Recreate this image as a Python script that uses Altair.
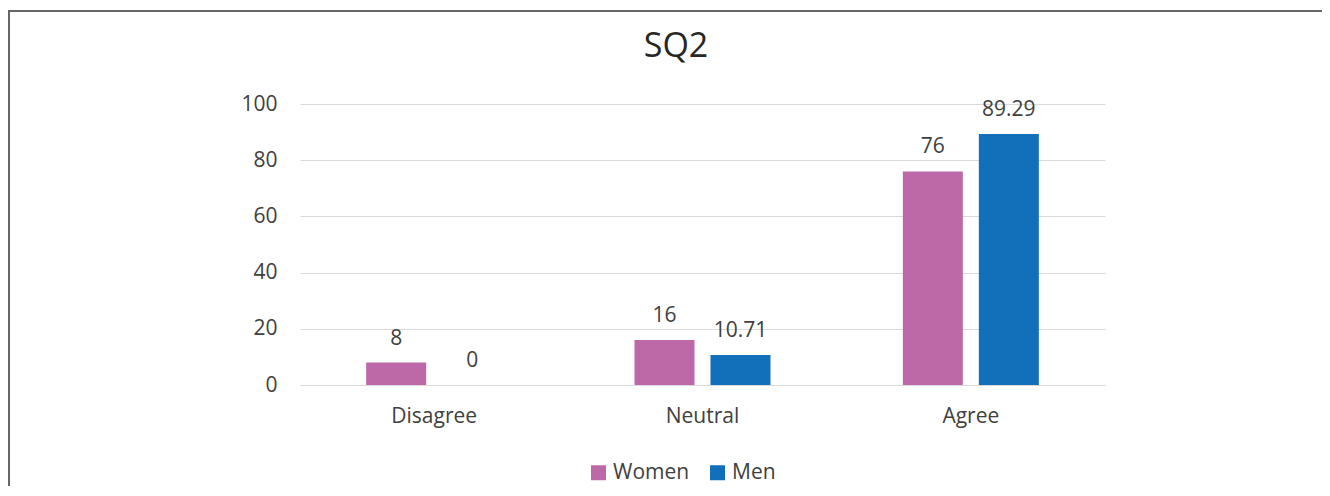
import altair as alt
import pandas as pd

categories = ["Disagree", "Neutral", "Agree"]
groups = ["Women", "Men"]
women = [8, 16, 76]
men = [0, 10.71, 89.29]
colors = ["#BD69A8", "#1170B9"]
y_ticks = [0, 20, 40, 60, 80, 100]
title_text = "SQ2"

rows = []
for c, w, m in zip(categories, women, men):
    rows.append({"category": c, "group": "Women", "value": w})
    rows.append({"category": c, "group": "Men", "value": m})
df = pd.DataFrame(rows)
df["label"] = df["value"].map(lambda v: f"{v:g}")

FONT = "Open Sans"
TXT = "#404040"
FS = 21

x = alt.X("category:N", sort=categories, title=None,
          scale=alt.Scale(paddingInner=0.4932, paddingOuter=0.2466),
          axis=alt.Axis(labelAngle=0, labelFontSize=FS, labelColor=TXT, labelFont=FONT,
                        ticks=False, domainColor="#d9d9d9", domainWidth=1, labelPadding=20))
xo = alt.XOffset("group:N", sort=groups, scale=alt.Scale(paddingInner=0.2105, paddingOuter=0))
y = alt.Y("value:Q", title=None, scale=alt.Scale(domain=[0, 100]),
          axis=alt.Axis(values=y_ticks, grid=True, gridColor="#d9d9d9", gridWidth=1,
                        domain=False, ticks=False, labelPadding=23, labelFontSize=FS,
                        labelColor=TXT, labelFont=FONT))
color = alt.Color("group:N", sort=groups,
                  scale=alt.Scale(domain=groups, range=colors),
                  legend=alt.Legend(title=None, orient="none", legendX=288, legendY=358,
                                    direction="horizontal", symbolType="square",
                                    symbolSize=225, symbolStrokeWidth=0,
                                    labelFontSize=FS, labelFont=FONT, labelColor=TXT,
                                    columnPadding=17, labelOffset=4))

bars = alt.Chart(df).mark_bar().encode(x=x, xOffset=xo, y=y, color=color)
labels = alt.Chart(df).mark_text(baseline="alphabetic", dy=-18, fontSize=FS, font=FONT,
                                 color=TXT).encode(x=x, xOffset=xo, y=y, text="label:N")

one = pd.DataFrame({"t": [title_text]})
title = alt.Chart(one).mark_text(fontSize=34, font=FONT, color="#262626",
                                 baseline="middle", align="center").encode(
    x=alt.value(376), y=alt.value(-57), text="t:N")

frame_left = alt.Chart(one).mark_rule(stroke="#666666", strokeWidth=2, clip=False).encode(
    x=alt.value(-291), y=alt.value(-93), y2=alt.value(600))
frame_top = alt.Chart(one).mark_rule(stroke="#666666", strokeWidth=2, clip=False).encode(
    x=alt.value(-292), x2=alt.value(1200), y=alt.value(-93))

chart = alt.layer(frame_left, frame_top, bars, labels, title).properties(
    width=805, height=281,
    autosize="none",
    padding={"left": 292, "top": 96, "right": 217, "bottom": 101},
).configure_view(stroke=None)

chart.save("out.html", embed_options={"renderer": "svg", "actions": False})
